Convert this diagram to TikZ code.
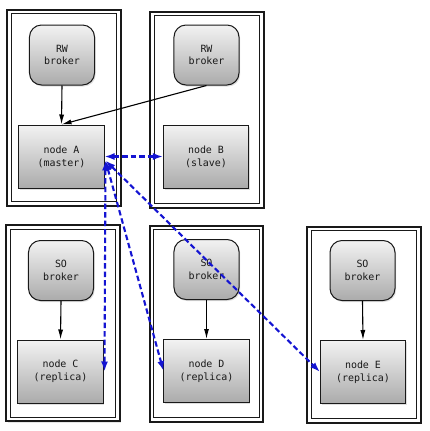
\documentclass[tikz,border=0pt]{standalone}
\usepackage{fontspec}
\setmonofont{DejaVu Sans Mono}
\usetikzlibrary{arrows.meta,shadows}
\definecolor{linkblue}{RGB}{20,20,210}
\tikzset{
  boxfont/.style={font=\ttfamily\fontsize{10}{12.8}\selectfont, text=black!90, align=center},
  shade box/.style={draw=black!90, line width=1bp, top color=black!5, bottom color=black!33,
     drop shadow={shadow xshift=1.2bp, shadow yshift=-1.5bp, opacity=0.25}},
  broker/.style={shade box, boxfont, rounded corners=12bp, minimum width=65bp, minimum height=60bp, inner sep=0pt},
  dbnode/.style={shade box, boxfont, rectangle, minimum width=85bp, minimum height=63bp, inner sep=0pt},
  cont outer/.style={draw=black!90, line width=2bp, fill=white, minimum width=113bp, minimum height=196bp, inner sep=0pt,
     drop shadow={shadow xshift=1.2bp, shadow yshift=-1.5bp, opacity=0.2}},
  cont inner/.style={draw=black!90, line width=1bp, minimum width=105bp, minimum height=188bp, inner sep=0pt},
  feed/.style={draw=black, line width=1.1bp, -{Latex[length=10bp,width=5bp]}},
  repl/.style={draw=linkblue, line width=2.1bp, dash pattern=on 5.5bp off 3bp,
     {Latex[length=10bp,width=7bp]}-{Latex[length=10bp,width=7bp]}}
}
\begin{document}
\begin{tikzpicture}[x=1bp,y=-1bp]
\useasboundingbox (0,0) rectangle (430,431);
% containers
\node[cont outer] (cA) at (64,107.5) {};
\node[cont inner] (ciA) at (cA.center) {};
\node[cont outer] (cB) at (207,109.5) {};
\node[cont inner] (ciB) at (cB.center) {};
\node[cont outer] (cC) at (63,323) {};
\node[cont inner] (ciC) at (cC.center) {};
\node[cont outer] (cD) at (206.5,323.5) {};
\node[cont inner] (ciD) at (cD.center) {};
\node[cont outer] (cE) at (364,324.5) {};
\node[cont inner] (ciE) at (cE.center) {};
% brokers
\node[broker] (bA) at (62,55) {RW\\broker};
\node[broker] (bB) at (206.5,55) {RW\\broker};
\node[broker] (bC) at (61,270.5) {SO\\broker};
\node[broker] (bD) at (206.5,269.5) {SO\\broker};
\node[broker] (bE) at (362.5,270.5) {SO\\broker};
% data nodes
\node[dbnode] (nA) at (61.5,156.5) {node A\\(master)};
\node[dbnode] (nB) at (206,156.5) {node B\\(slave)};
\node[dbnode] (nC) at (60.5,371.5) {node C\\(replica)};
\node[dbnode] (nD) at (206.5,371) {node D\\(replica)};
\node[dbnode] (nE) at (363,372) {node E\\(replica)};
% broker connections
\draw[feed] (bA.south) -- (nA.north);
\draw[feed] (bB.south) -- (nA.north);
\draw[feed] (bC.south) -- (nC.north);
\draw[feed] (bD.south) -- (nD.north);
\draw[feed] (bE.south) -- (nE.north);
% replication links
\draw[repl] (nA.east) -- (nB.west);
\draw[repl] ([xshift=1bp,yshift=-4bp]nA.east) -- ([xshift=1bp]nC.east);
\draw[repl] ([xshift=1bp,yshift=-4bp]nA.east) -- (nD.west);
\draw[repl] ([xshift=1bp,yshift=-4bp]nA.east) -- (nE.west);
\end{tikzpicture}
\end{document}
